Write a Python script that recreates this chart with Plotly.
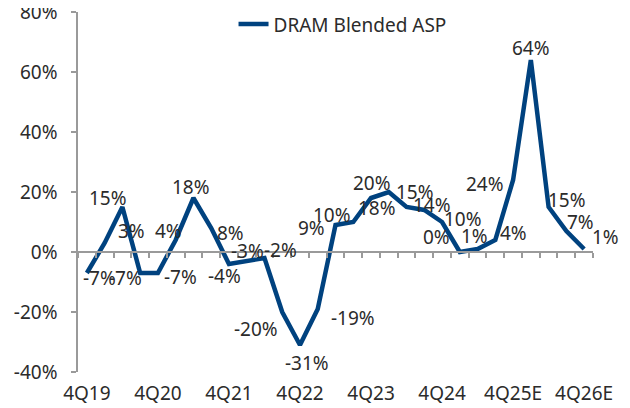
import plotly.graph_objects as go

quarters = ["4Q19", "1Q20", "2Q20", "3Q20", "4Q20", "1Q21", "2Q21", "3Q21", "4Q21",
            "1Q22", "2Q22", "3Q22", "4Q22", "1Q23", "2Q23", "3Q23", "4Q23",
            "1Q24", "2Q24", "3Q24", "4Q24", "1Q25", "2Q25", "3Q25", "4Q25E",
            "1Q26E", "2Q26E", "3Q26E", "4Q26E"]
asp_change = [-7, 3, 15, -7, -7, 4, 18, 8, -4, -3, -2, -20, -31, -19, 9, 10, 18,
              20, 15, 14, 10, 0, 1, 4, 24, 64, 15, 7, 1]
y_ticks = [-40, -20, 0, 20, 40, 60, 80]
y_tick_text = ["-40%", "-20%", "0%", "20%", "40%", "60%", "80%"]

# label offsets in pixels (dx right, dy down) to mimic reference label placement
label_offsets = [(13, 5), (27, -12), (-14, -9), (-15, 5), (23, 4), (-7, -9), (-2, -11),
                 (19, 5), (-4, 12), (1, -10), (16, -8), (-26, 17), (7, 18), (35, 9),
                 (-24, 3), (-21, -7), (6, 10), (-17, -9), (8, -15), (8, -5), (21, -3),
                 (-23, -15), (-3, -13), (18, -7), (-28, 4), (0, -12), (18, -7), (14, -9),
                 (21, -12)]

LINE = "#00427F"
TXT = "#2b2b2b"
AX = "#9a9a9a"
FONT = "Noto Sans"
FS = 19

n = len(quarters)
xs = list(range(n))

fig = go.Figure()
fig.add_trace(go.Scatter(x=xs, y=asp_change, mode="lines", name="DRAM Blended ASP",
                         line=dict(color=LINE, width=4.5), hoverinfo="skip"))
fig.add_trace(go.Scatter(x=xs, y=asp_change, xaxis="x2", mode="lines",
                         line=dict(width=0), showlegend=False, hoverinfo="skip", opacity=0))

annotations = []
for i, v in enumerate(asp_change):
    dx, dy = label_offsets[i]
    annotations.append(dict(x=i, y=v, xref="x", yref="y", text=f"{v}%", showarrow=False,
                            xshift=dx, yshift=-dy, font=dict(family=FONT, size=FS, color=TXT)))

label_idx = list(range(0, n, 4))
# page body has an 8px default margin: figure sized/margined to compensate
fig.update_layout(
    width=622, height=400,
    margin=dict(l=70, r=37, t=4, b=36, autoexpand=False),
    paper_bgcolor="white", plot_bgcolor="white",
    font=dict(family=FONT, size=FS, color=TXT),
    showlegend=True,
    legend=dict(orientation="h", x=0.302, xanchor="left", y=0.966, yanchor="middle",
                font=dict(family=FONT, size=FS, color=TXT), bgcolor="rgba(0,0,0,0)"),
    xaxis=dict(range=[-0.5, n - 0.5], showgrid=False, zeroline=False, showline=False,
               automargin=False, ticklabeloverflow="allow",
               tickmode="array", tickvals=label_idx, ticktext=[quarters[i] for i in label_idx],
               ticks="", ticklabelstandoff=8, tickfont=dict(family=FONT, size=FS, color=TXT)),
    xaxis2=dict(range=[-0.5, n - 0.5], overlaying="x", anchor="free", position=1/3,
                side="bottom", showgrid=False, zeroline=False, showline=True, linecolor=AX,
                automargin=False,
                linewidth=1.5, showticklabels=False, tickmode="array", tickvals=[], ticks="",
                minor=dict(tickvals=[i - 0.5 for i in range(n + 1)], ticks="outside",
                           ticklen=5, tickcolor=AX, tickwidth=1.5)),
    yaxis=dict(range=[-40, 80], tickmode="array", tickvals=y_ticks, ticktext=y_tick_text,
               showgrid=False, zeroline=False, showline=True, linecolor=AX, linewidth=1.5,
               automargin=False, ticklabeloverflow="allow",
               ticks="outside", ticklen=5, tickcolor=AX, tickwidth=1.5,
               ticklabelstandoff=10, tickfont=dict(family=FONT, size=FS, color=TXT)),
    annotations=annotations,
)

fig.write_html("out.html")
